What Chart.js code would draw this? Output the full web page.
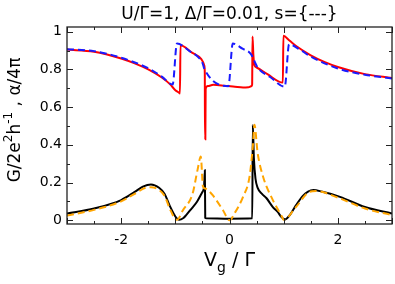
<!DOCTYPE html>
<html lang="en">
<head>
<meta charset="UTF-8" />
<title>Conductance vs gate voltage</title>
<script src="https://cdn.jsdelivr.net/npm/chart.js"></script>
<style>
  html, body { margin: 0; padding: 0; background: #fff; }
  #wrap { width: 395px; height: 284px; }
</style>
</head>
<body>
<div id="wrap"><canvas id="chart" width="395" height="284"></canvas></div>
<script>
// values
const redX   = [-3, -2.5, -2, -1.75, -1.5, -1.25, -1.1, -1.0, -0.93, -0.915, -0.905, -0.7, -0.52, -0.49, -0.465, -0.456, -0.452, -0.446, -0.44, -0.4, -0.3, -0.1, 0.1, 0.25, 0.35, 0.41, 0.418, 0.425, 0.44, 0.46, 0.5, 0.7, 0.985, 0.995, 1.1, 1.25, 1.5, 1.75, 2.0, 2.5, 3.0];
const redY   = [0.905, 0.894, 0.858, 0.832, 0.80, 0.757, 0.722, 0.69, 0.676, 0.672, 0.928, 0.89, 0.855, 0.84, 0.82, 0.78, 0.43, 0.43, 0.698, 0.712, 0.718, 0.714, 0.708, 0.704, 0.705, 0.712, 0.72, 0.975, 0.88, 0.822, 0.81, 0.775, 0.73, 0.978, 0.955, 0.92, 0.875, 0.84, 0.813, 0.775, 0.755];

const blueX  = [-3, -2.5, -2, -1.5, -1.25, -1.05, -0.97, -0.75, -0.56, -0.5, -0.46, -0.02, 0.06, 0.24, 0.4, 0.45, 0.52, 0.75, 1.02, 1.1, 1.3, 1.5, 2.0, 2.5, 3.0];
const blueY  = [0.907, 0.897, 0.862, 0.806, 0.762, 0.72, 0.938, 0.90, 0.86, 0.835, 0.80, 0.711, 0.937, 0.91, 0.88, 0.85, 0.81, 0.76, 0.708, 0.933, 0.905, 0.868, 0.805, 0.772, 0.752];

const blackX = [-3, -2.5, -2, -1.75, -1.6, -1.45, -1.3, -1.2, -1.1, -1.0, -0.93, -0.85, -0.8, -0.7, -0.6, -0.5, -0.47, -0.455, -0.448, -0.43, 0, 0.42, 0.43, 0.45, 0.48, 0.52, 0.6, 0.68, 0.8, 0.89, 0.95, 1.02, 1.12, 1.23, 1.35, 1.45, 1.55, 1.7, 2.04, 2.5, 3.0];
const blackY = [0.035, 0.062, 0.107, 0.15, 0.178, 0.19, 0.172, 0.14, 0.075, 0.02, 0.002, 0.012, 0.027, 0.062, 0.098, 0.15, 0.175, 0.265, 0.012, 0.01, 0.008, 0.01, 0.505, 0.33, 0.22, 0.172, 0.14, 0.118, 0.07, 0.044, 0.02, 0.003, 0.03, 0.08, 0.128, 0.152, 0.16, 0.152, 0.124, 0.07, 0.035];

const orangeX = [-3, -2.5, -2, -1.75, -1.55, -1.45, -1.3, -1.2, -1.1, -1.0, -0.97, -0.86, -0.68, -0.59, -0.53, -0.49, -0.45, -0.38, -0.31, -0.12, 0, 0.1, 0.25, 0.37, 0.43, 0.46, 0.52, 0.62, 0.8, 0.97, 1.0, 1.23, 1.48, 1.6, 2.0, 2.5, 3.0];
const orangeY = [0.025, 0.055, 0.10, 0.14, 0.172, 0.175, 0.16, 0.13, 0.06, 0.005, 0.002, 0.053, 0.142, 0.267, 0.338, 0.178, 0.168, 0.155, 0.133, 0.053, 0.0, 0.04, 0.124, 0.231, 0.39, 0.507, 0.356, 0.231, 0.107, 0.018, 0.002, 0.071, 0.151, 0.155, 0.12, 0.062, 0.027];

const xTickLabels = [-2, 0, 2];
const yTickLabels = [0, 0.2, 0.4, 0.6, 0.8, 1];

const titleText = 'U/\u0393=1, \u0394/\u0393=0.01, s={---}';
const FONT = "'DejaVu Sans', sans-serif";

function pts(xs, ys) {
  return xs.map((x, i) => ({ x: x, y: ys[i] }));
}

function line(label, xs, ys, color, dash) {
  return {
    label: label,
    data: pts(xs, ys),
    borderColor: color,
    borderWidth: 2,
    borderDash: dash || [],
    pointRadius: 0,
    fill: false,
    cubicInterpolationMode: 'monotone'
  };
}

// draws a run of text pieces (for super/subscripts), centred on cx
function drawRich(ctx, parts, cx, cy) {
  let w = 0;
  parts.forEach(p => { ctx.font = p.size + 'px ' + FONT; w += ctx.measureText(p.t).width; });
  let x = cx - w / 2;
  parts.forEach(p => {
    ctx.font = p.size + 'px ' + FONT;
    ctx.fillText(p.t, x, cy + (p.dy || 0));
    x += ctx.measureText(p.t).width;
  });
}

const frameAndText = {
  id: 'frameAndText',
  afterDraw(chart) {
    const { ctx, chartArea: a, scales: { x, y } } = chart;
    ctx.save();
    ctx.strokeStyle = '#222';
    ctx.lineWidth = 1.3;
    ctx.strokeRect(a.left, a.top, a.right - a.left, a.bottom - a.top);

    ctx.lineWidth = 1;
    ctx.beginPath();
    for (let i = -6; i <= 6; i++) {
      const px = Math.round(x.getPixelForValue(i / 2)) + 0.5;
      const len = i % 2 === 0 ? 6 : 3;
      ctx.moveTo(px, a.bottom); ctx.lineTo(px, a.bottom - len);
      ctx.moveTo(px, a.top); ctx.lineTo(px, a.top + len);
    }
    for (let i = 0; i <= 10; i++) {
      const py = Math.round(y.getPixelForValue(i / 10)) + 0.5;
      const len = i % 2 === 0 ? 6 : 3;
      ctx.moveTo(a.left, py); ctx.lineTo(a.left + len, py);
      ctx.moveTo(a.right, py); ctx.lineTo(a.right - len, py);
    }
    ctx.stroke();

    ctx.fillStyle = '#000';
    ctx.textBaseline = 'alphabetic';
    ctx.textAlign = 'left';

    // title
    drawRich(ctx, [{ t: titleText, size: 17 }], (a.left + a.right) / 2, 18.5);

    // x axis title: V_g / Γ
    drawRich(ctx, [
      { t: 'V', size: 19 },
      { t: 'g', size: 14, dy: 6 },
      { t: ' / \u0393', size: 19 }
    ], (a.left + a.right) / 2, 266);

    // y axis title: G/2e^2h^-1 , α/4π
    ctx.translate(20, 120);
    ctx.rotate(-Math.PI / 2);
    drawRich(ctx, [
      { t: 'G/2e', size: 17 },
      { t: '2', size: 12, dy: -8 },
      { t: 'h', size: 17 },
      { t: '-1', size: 12, dy: -8 },
      { t: ' , \u03b1/4\u03c0', size: 17 }
    ], 0, 0);
    ctx.restore();
  }
};

new Chart(document.getElementById('chart'), {
  type: 'line',
  data: {
    datasets: [
      line('alpha dashed', orangeX, orangeY, '#ffa500', [7, 4]),
      line('G dashed', blueX, blueY, '#1a1aff', [7, 4]),
      line('alpha', blackX, blackY, '#000000'),
      line('G', redX, redY, '#ff0000')
    ]
  },
  options: {
    responsive: false,
    animation: false,
    layout: { padding: { top: 27, right: 3, left: 0, bottom: 0 } },
    plugins: {
      legend: { display: false },
      tooltip: { enabled: false },
      title: { display: false }
    },
    scales: {
      x: {
        type: 'linear',
        min: -3,
        max: 3,
        afterBuildTicks: s => { s.ticks = xTickLabels.map(v => ({ value: v })); },
        afterFit: s => { s.height = 60; },
        grid: { display: false, drawTicks: false },
        border: { display: false },
        ticks: {
          padding: 8,
          color: '#000',
          font: { family: FONT, size: 14 },
          maxRotation: 0,
          callback: v => String(v)
        }
      },
      y: {
        type: 'linear',
        min: -0.02,
        max: 1.025,
        afterBuildTicks: s => { s.ticks = yTickLabels.map(v => ({ value: v })); },
        afterFit: s => { s.width = 67; },
        grid: { display: false, drawTicks: false },
        border: { display: false },
        ticks: {
          padding: 5,
          color: '#000',
          font: { family: FONT, size: 14 },
          callback: v => (v === 0 || v === 1) ? String(v) : v.toFixed(1)
        }
      }
    }
  },
  plugins: [frameAndText]
});
</script>
</body>
</html>
